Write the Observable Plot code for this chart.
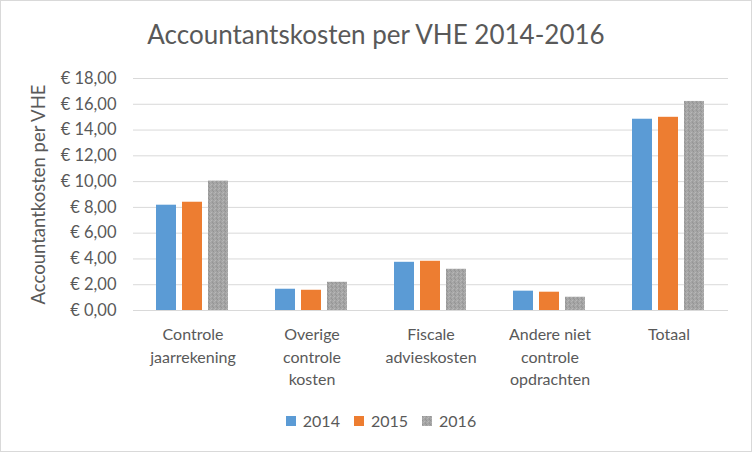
<!DOCTYPE html>
<html><head><meta charset="utf-8">
<script src="https://cdn.jsdelivr.net/npm/d3@7"></script>
<script src="https://cdn.jsdelivr.net/npm/@observablehq/plot@0.6"></script>
<style>
html,body{margin:0;padding:0;background:#fff;}
#chart{position:relative;width:750px;height:450px;border:1px solid #d9d9d9;font-family:Lato,sans-serif;color:#595959;overflow:hidden;background:#fff}
#title{position:absolute;left:0;top:18px;width:100%;text-align:center;font-size:26px;line-height:30px;white-space:nowrap}
#plot{position:absolute;left:0;top:54px}
#legend{position:absolute;left:0;top:410px;width:100%;display:flex;justify-content:center;font-size:16px;line-height:20px;padding-left:10px;box-sizing:border-box}
.item{display:flex;align-items:center;margin:0 7px}
.item svg{margin-right:7px}
</style></head>
<body>
<div id="chart">
  <div id="title">Accountantskosten per VHE 2014-2016</div>
  <div id="plot"></div>
  <div id="legend"></div>
</div>
<script>
const categories = ["Controle jaarrekening", "Overige controle kosten", "Fiscale advieskosten", "Andere niet controle opdrachten", "Totaal"];
const categoryLabels = ["Controle\njaarrekening", "Overige\ncontrole\nkosten", "Fiscale\nadvieskosten", "Andere niet\ncontrole\nopdrachten", "Totaal"];
const years = ["2014", "2015", "2016"];
const values2014 = [8.17, 1.65, 3.74, 1.50, 14.84];
const values2015 = [8.40, 1.57, 3.82, 1.42, 14.99];
const values2016 = [10.04, 2.19, 3.20, 1.03, 16.22];
const yTicks = [0, 2, 4, 6, 8, 10, 12, 14, 16, 18];
const colors = ["#5B9BD5", "#ED7D31", "url(#grayTex)"];
const yLabel = "Accountantkosten per VHE";

const series = [values2014, values2015, values2016];
const rows = [];
categories.forEach((c, i) => years.forEach((y, j) => rows.push({category: c, year: y, value: series[j][i]})));
const labelOf = new Map(categories.map((c, i) => [c, categoryLabels[i]]));
const euro = d => "€ " + d.toFixed(2).replace(".", ",");

const chart = Plot.plot({
  width: 750,
  height: 346,
  marginTop: 23,
  marginBottom: 91,
  marginLeft: 132,
  marginRight: 23,
  style: {fontFamily: "Lato, sans-serif", fontSize: "16px", color: "#595959", background: "transparent", overflow: "visible"},
  fx: {domain: categories, padding: 0},
  x: {domain: years, paddingInner: 0.2264, paddingOuter: 0.858, axis: null},
  y: {domain: [0, 18]},
  color: {domain: years, range: colors},
  marks: [
    Plot.ruleY(yTicks, {stroke: "#d9d9d9", strokeWidth: 1}),
    Plot.barY(rows, {fx: "category", x: "year", y: "value", fill: "year"}),
    Plot.axisY({ticks: yTicks, tickFormat: euro, tickSize: 0, tickPadding: 17, label: null, fontSize: 16.5}),
    Plot.axisY({ticks: [], label: yLabel, labelAnchor: "center", labelOffset: 102, labelArrow: "none", fontSize: 18.5}),
    Plot.axisFx({anchor: "bottom", tickFormat: d => labelOf.get(d), tickSize: 0, tickPadding: 14, lineHeight: 1.4, lineAnchor: "top", label: null, fontSize: 16})
  ]
});

const svg = d3.select(chart);
const defs = svg.insert("defs", ":first-child");
function addPattern(defsSel) {
  const p = defsSel.append("pattern").attr("id", "grayTex").attr("width", 4).attr("height", 4).attr("patternUnits", "userSpaceOnUse");
  p.append("rect").attr("width", 4).attr("height", 4).attr("fill", "#a5a5a5");
  [[0,0,"#939393"],[2,1,"#b8b8b8"],[1,2,"#b4b4b4"],[3,3,"#959595"],[1,0,"#aaaaaa"],[3,2,"#9c9c9c"]].forEach(([x,y,c]) =>
    p.append("rect").attr("x", x).attr("y", y).attr("width", 1).attr("height", 1).attr("fill", c));
}
addPattern(defs);
document.getElementById("plot").appendChild(chart);

const legend = d3.select("#legend");
years.forEach((y, i) => {
  const it = legend.append("div").attr("class", "item");
  const s = it.append("svg").attr("width", 10).attr("height", 10);
  s.append("rect").attr("width", 10).attr("height", 10).attr("fill", colors[i]);
  it.append("span").text(y);
});
</script>
</body></html>
